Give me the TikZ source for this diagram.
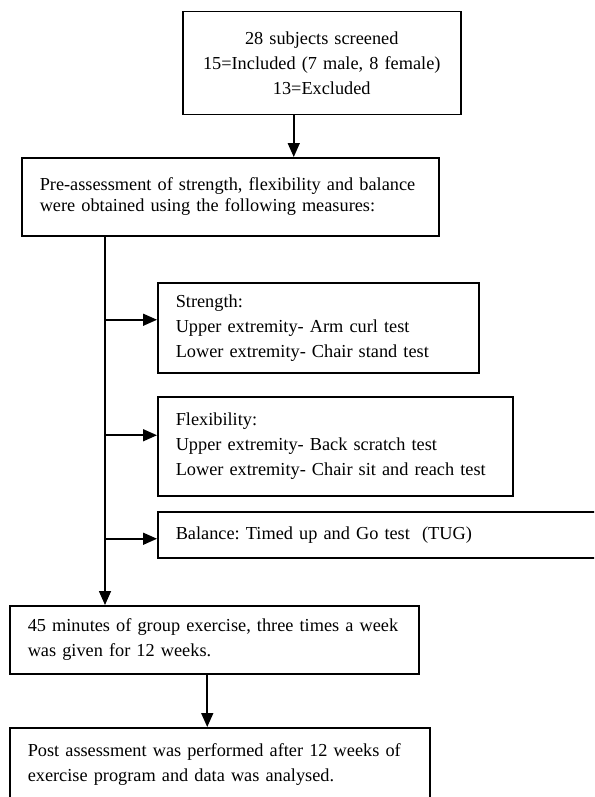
\documentclass[tikz,border=0pt]{standalone}
\usepackage{fontspec}
\setmainfont{Liberation Serif}
\usetikzlibrary{positioning, calc, arrows.meta}

\tikzset{
	box/.style={draw, line width=1.5pt, anchor=north west, inner xsep=18pt, inner ysep=0pt,
		align=left, font=\fontsize{18.3}{25}\selectfont\frenchspacing},
	arr/.style={line width=1.6pt, -{Triangle[length=14pt, width=12pt]}}
}

\begin{document}
\begin{tikzpicture}[x=1pt, y=1pt]
			\useasboundingbox (0,0) rectangle (594,-797);
			\clip (0,0) rectangle (594,-797);
			
			\node [box, align=center, text width=242pt, minimum height=103pt] (screen) at (182,-11)
				{28 subjects screened\\15=Included (7 male, 8 female)\\13=Excluded\\[2pt]};
			\node [box, text width=381pt, minimum height=78pt, font=\fontsize{18.3}{21.5}\selectfont\frenchspacing] (pre) at (21,-157)
				{Pre-assessment of strength, flexibility and balance\\were obtained using the following measures:};
			\node [box, text width=285pt, minimum height=90pt] (strength) at (157,-282)
				{Strength:\\Upper extremity- Arm curl test\\Lower extremity- Chair stand test};
			\node [box, text width=319pt, minimum height=99pt] (flex) at (157,-396)
				{Flexibility:\\Upper extremity- Back scratch test\\Lower extremity- Chair sit and reach test};
			\node [box, text width=427pt, minimum height=46pt] (balance) at (157,-511)
				{Balance: Timed up and Go test~ (TUG)};
			\node [box, text width=373pt, minimum height=68pt] (exercise) at (9,-605)
				{45 minutes of group exercise, three times a week\\was given for 12 weeks.};
			\node [box, text width=384pt, minimum height=74pt] (post) at (9,-727)
				{Post assessment was performed after 12 weeks of\\exercise program and data was analysed.};
			
			\draw [arr] ([xshift=-28pt]screen.south) -- ([xshift=-28pt]screen.south |- pre.north);
			
			\coordinate (trunk) at ([xshift=84pt]pre.south west);
			\draw [arr] (trunk) -- (trunk |- exercise.north);
			\foreach \name/\dy in {strength/8, flex/11, balance/-4}
			{
				\path ([yshift=\dy pt]\name.west) coordinate (tip);
				\draw [arr] (trunk |- tip) -- (tip);
			}
			
			\path ([xshift=-7pt]exercise.south) coordinate (down);
			\draw [arr] (down) -- (down |- post.north);
\end{tikzpicture}
\end{document}
